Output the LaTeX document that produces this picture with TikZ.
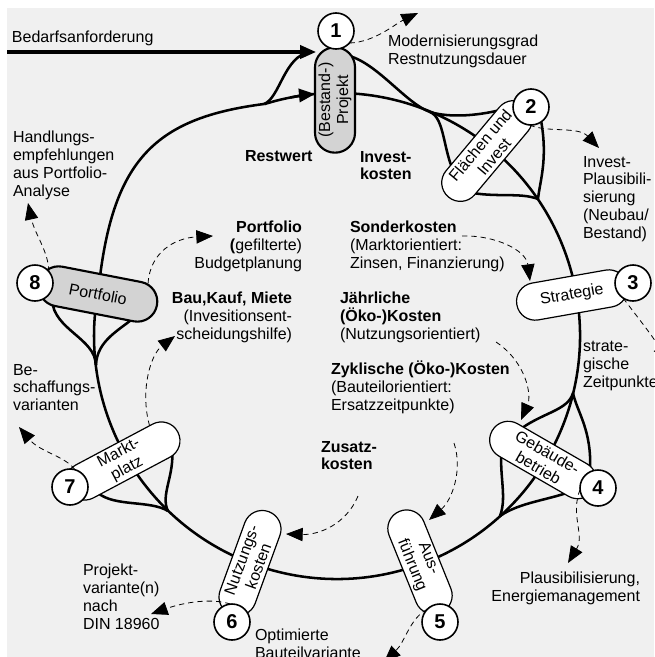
\documentclass[tikz,border=0pt]{standalone}
\usepackage{fontspec}
\setmainfont{Liberation Sans}
\usetikzlibrary{arrows.meta}
\usetikzlibrary{positioning}
\definecolor{bggray}{HTML}{F0F0F0}
\definecolor{pillgray}{HTML}{D3D3D3}
\tikzset{every node/.style={inner sep=0, outer sep=0, font=\fontsize{12}{13.4}\selectfont}}
\tikzset{ring/.style={line width=1.9pt},
  pill/.style={draw, fill=white, line width=0.9pt, rounded corners=13.9pt, minimum height=28pt, align=center},
  greypill/.style={pill, fill=pillgray, line width=1.6pt, minimum height=30pt, rounded corners=14.9pt},
  num/.style={draw, circle, fill=white, line width=1.2pt, minimum size=27pt, font=\fontsize{15}{15}\selectfont\bfseries},
  hint/.style={line width=0.6pt, dash pattern=on 4pt off 3pt, -{Triangle[length=12.5pt,width=10pt]}},
  lbl/.style={anchor=north west, align=left},
  rlbl/.style={anchor=north east, align=right}}

\begin{document}
\begin{tikzpicture}[x=0.75pt,y=0.75pt]
		\useasboundingbox (0,0) rectangle (654,-657);
		\fill[bggray] (7,-8) rectangle (654,-657);
		\coordinate[] (ctr) at (337,-336);
		\coordinate[] (bA) at (7,-52);
		\coordinate[] (tA) at (316,-52);
		\coordinate[] (tS) at (310,-52);
		\coordinate[] (sA) at (264,-104);
		\coordinate[] (pH) at (99,-285);
		\coordinate[] (o1) at (345,-55);
		\coordinate[] (mB) at (430,-112);
		\coordinate[] (i2a) at (508,-108);
		\coordinate[] (i2b) at (455,-174);
		\coordinate[] (o2a) at (468,-192);
		\coordinate[] (o2b) at (541,-120);
		\coordinate[] (jB) at (538,-199);
		\coordinate[] (sD) at (573,-393);
		\coordinate[] (i4a) at (522,-428);
		\coordinate[] (i4b) at (590,-470);
		\coordinate[] (o4a) at (503,-440);
		\coordinate[] (o4b) at (575,-490);
		\coordinate[] (jD) at (500,-516);
		\coordinate[] (o7a) at (98,-493);
		\coordinate[] (o7b) at (172,-448);
		\coordinate[] (jG) at (168,-511);
		\coordinate[] (o8a) at (52,-300);
		\coordinate[] (o8b) at (136,-316);
		\coordinate[] (jH) at (96,-365);
		\coordinate[] (h1) at (418,-13);
		\coordinate[] (h2) at (599,-148);
		\coordinate[] (h3) at (668,-362);
		\coordinate[] (h4) at (568,-563);
		\coordinate[] (h5) at (384,-662);
		\coordinate[] (h6) at (151,-614);
		\coordinate[] (h7) at (19,-427);
		\coordinate[] (h8) at (28,-203);
		\coordinate[] (h9) at (213,-236);
		\coordinate[] (h10) at (175,-336);
		\coordinate[] (k11) at (462,-236);
		\coordinate[] (h11) at (530,-281);
		\coordinate[] (k12) at (496,-342);
		\coordinate[] (h12) at (521,-420);
		\coordinate[] (k13) at (454,-443);
		\coordinate[] (h13) at (429,-520);
		\coordinate[] (k14) at (358,-496);
		\coordinate[] (h14) at (286,-534);
		\draw[ring] (ctr) ++(107.4:243) arc[start angle=107.4, end angle=-192, radius=243];
		\draw[ring] (pH) .. controls (113,-160) and (155,-118) .. (sA);
		\draw[ring,-{Triangle[length=12pt,width=10pt]}] (ctr) ++(101:243) arc[start angle=101, end angle=95.2, radius=243];
		\draw[line width=2.4pt,-{Triangle[length=12pt,width=10pt]}] (bA) -- (tA);
		\draw[ring] (sA) .. controls (280,-98) and (284,-56) .. (tS);
		\draw[ring] (o1) .. controls (375,-60) and (405,-103) .. (mB);
		\draw[ring] (mB) .. controls (450,-118) and (480,-116) .. (i2a);
		\draw[ring] (mB) .. controls (445,-118) and (443,-152) .. (i2b);
		\draw[ring] (o2a) .. controls (495,-198) and (520,-192) .. (jB);
		\draw[ring] (o2b) .. controls (548,-160) and (540,-180) .. (jB);
		\draw[ring] (sD) .. controls (568,-410) and (545,-412) .. (i4a);
		\draw[ring] (sD) .. controls (577,-412) and (592,-430) .. (i4b);
		\draw[ring] (o4a) .. controls (497,-470) and (508,-495) .. (jD);
		\draw[ring] (o4b) .. controls (550,-500) and (520,-502) .. (jD);
		\draw[ring] (o7a) .. controls (115,-507) and (150,-500) .. (jG);
		\draw[ring] (o7b) .. controls (175,-475) and (160,-495) .. (jG);
		\draw[ring] (o8a) .. controls (54,-330) and (95,-338) .. (jH);
		\draw[ring] (o8b) .. controls (120,-330) and (97,-340) .. (jH);
		\node[greypill, minimum width=79pt, rotate=90] (p1) at (335,-100) {(Bestand-)\\Projekt};
		\node[pill, minimum width=90pt, rotate=50] (p2) at (487,-151) {Flächen und\\Invest};
		\node[pill, minimum width=84pt, rotate=10] (p3) at (572,-295) {Strategie};
		\node[pill, minimum width=88pt, rotate=-30] (p4) at (543,-460) {Gebäude-\\betrieb};
		\node[pill, minimum width=82pt, rotate=-68] (p5) at (420,-562) {Aus-\\führung};
		\node[pill, minimum width=82pt, rotate=70] (p6) at (250,-563) {Nutzungs-\\kosten};
		\node[pill, minimum width=93pt, rotate=28] (p7) at (123,-461) {Markt-\\platz};
		\node[greypill, minimum width=90pt, rotate=-11] (p8) at (98,-294) {Portfolio};
		\node[num] (n1) at (336,-31) {1};
		\node[num] (n2) at (531,-107) {2};
		\node[num] (n3) at (633,-283) {3};
		\node[num] (n4) at (598,-488) {4};
		\node[num] (n5) at (440,-622) {5};
		\node[num] (n6) at (232,-622) {6};
		\node[num] (n7) at (70,-487) {7};
		\node[num] (n8) at (35,-283) {8};
		\draw[hint] (n1.-42) .. controls (375,-42) and (395,-24) .. (h1);
		\draw[hint] (n2.-95) .. controls (548,-133) and (578,-126) .. (h2);
		\draw[hint] (n3.237) .. controls (638,-318) and (652,-335) .. (h3);
		\draw[hint] (n4.185) .. controls (570,-515) and (585,-535) .. (h4);
		\draw[hint] (n5.135) .. controls (410,-618) and (405,-642) .. (h5);
		\draw[hint] (n6.95) .. controls (212,-598) and (185,-602) .. (h6);
		\draw[hint] (n7.74) .. controls (65,-456) and (40,-452) .. (h7);
		\draw[hint] (n8.39) .. controls (48,-250) and (35,-235) .. (h8);
		\draw[hint] (p8.23) .. controls (150,-252) and (175,-238) .. (h9);
		\draw[hint] (p7.25) .. controls (140,-392) and (150,-355) .. (h10);
		\draw[hint] (k11) .. controls (495,-235) and (526,-250) .. (h11);
		\draw[hint] (k12) .. controls (526,-362) and (532,-395) .. (h12);
		\draw[hint] (k13) .. controls (463,-470) and (452,-500) .. (h13);
		\draw[hint] (k14) .. controls (346,-525) and (318,-535) .. (h14);
		\node[lbl] (tBedarf) at (12,-31) {Bedarfsanforderung};
		\node[lbl] (tModern) at (388,-35) {Modernisierungsgrad\\Restnutzungsdauer};
		\node[lbl] (tInvPl) at (583,-156) {Invest-\\Plausibili-\\sierung\\(Neubau/\\Bestand)};
		\node[lbl] (tStrat) at (583,-341) {strate-\\gische\\Zeitpunkte};
		\node[rlbl] (tPlaus) at (640,-572) {Plausibilisierung,\\Energiemanagement};
		\node[lbl] (tOptim) at (255,-629) {Optimierte\\Bauteilvariante};
		\node[lbl] (tProj) at (83,-564) {Projekt-\\variante(n)\\nach\\DIN 18960};
		\node[lbl] (tBesch) at (13,-364) {Be-\\schaffungs-\\varianten};
		\node[lbl] (tHandl) at (13,-131) {Handlungs-\\empfehlungen\\aus Portfolio-\\Analyse};
		\node[lbl, font=\fontsize{12}{13.4}\selectfont\bfseries] (tRest) at (245,-150) {Restwert};
		\node[lbl, font=\fontsize{12}{13.4}\selectfont\bfseries] (tInvK) at (360,-151) {Invest-\\kosten};
		\node[rlbl] (tPortf) at (302,-221) {\textbf{Portfolio}\\\textbf{(}gefilterte)\\Budgetplanung};
		\node[rlbl] (tBau) at (292,-292) {\textbf{Bau,Kauf, Miete}\\(Invesitionsent-\\scheidungshilfe)};
		\node[lbl] (tSonder) at (350,-221) {\textbf{Sonderkosten}\\(Marktorientiert:\\Zinsen, Finanzierung)};
		\node[lbl] (tJahr) at (340,-292) {\textbf{Jährliche}\\\textbf{(Öko-)Kosten}\\(Nutzungsorientiert)};
		\node[lbl] (tZykl) at (331,-361) {\textbf{Zyklische (Öko-)Kosten}\\(Bauteilorientiert:\\Ersatzzeitpunkte)};
		\node[lbl, font=\fontsize{12}{13.4}\selectfont\bfseries] (tZus) at (321,-441) {Zusatz-\\kosten};
	\end{tikzpicture}
\end{document}
